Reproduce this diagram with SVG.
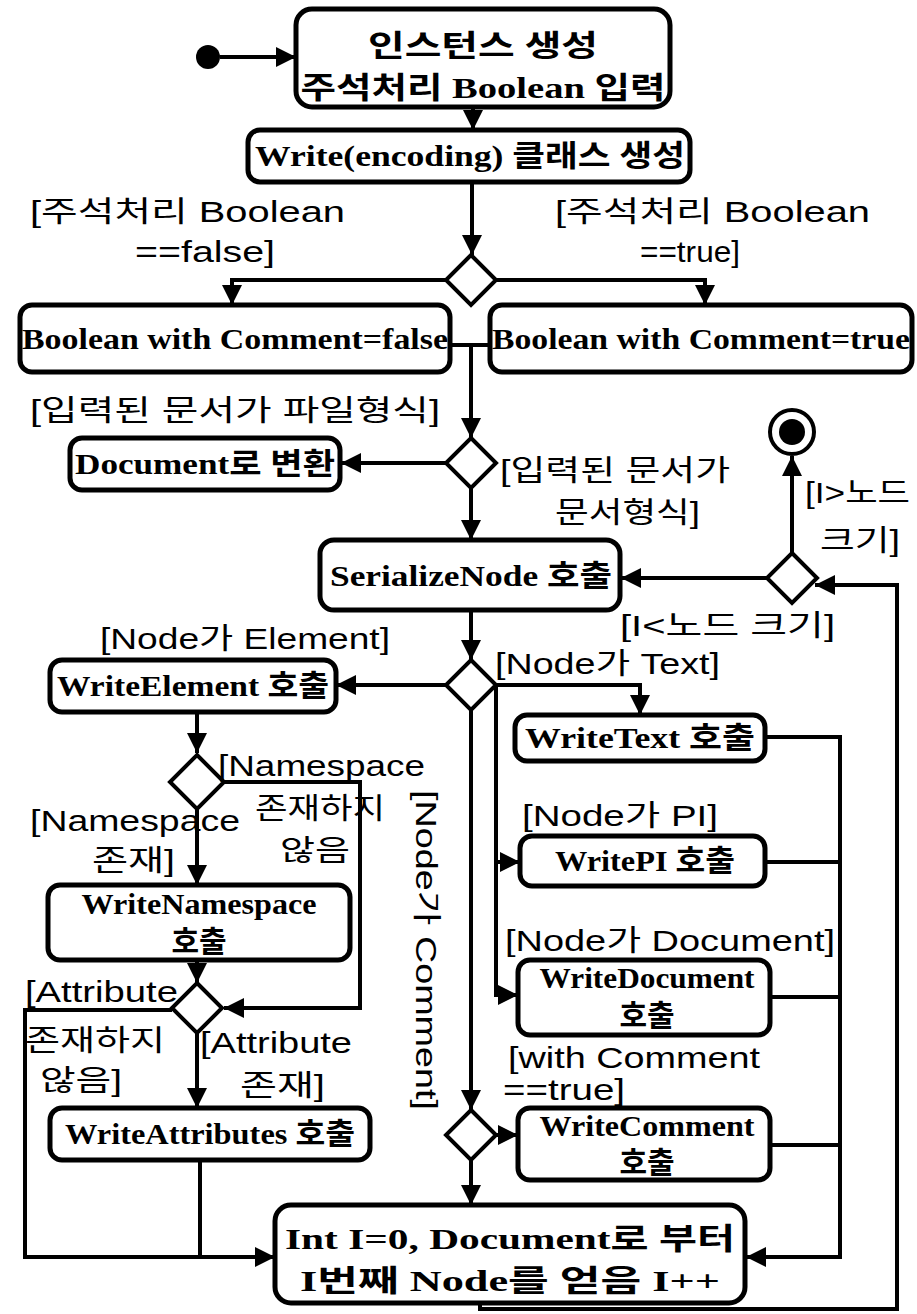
<svg xmlns="http://www.w3.org/2000/svg" width="917" height="1314" viewBox="0 0 917 1314">
<defs>
<marker id="ah" markerUnits="userSpaceOnUse" markerWidth="22" markerHeight="22" refX="20" refY="10" orient="auto">
<path d="M0,0 L20,10 L0,20 z" fill="#000"/>
</marker>
<style>
.box{fill:#fff;stroke:#000;stroke-width:5}
.bt{font-family:"Liberation Serif","Noto Sans CJK KR",serif;font-weight:bold;font-size:30px;fill:#000;text-anchor:middle}
.lb{font-family:"Liberation Sans","Noto Sans CJK KR",sans-serif;font-size:29px;fill:#000}
.dm{fill:#fff;stroke:#000;stroke-width:4}
.cn path,.cn line{fill:none;stroke:#000;stroke-width:4}
.ar{marker-end:url(#ah)}
</style>
</defs>
<rect width="917" height="1314" fill="#fff"/>

<g class="cn" id="connectors">
<line class="ar" x1="220" y1="57" x2="296" y2="57"/>
<line class="ar" x1="473" y1="108" x2="473" y2="130"/>
<line class="ar" x1="472" y1="182" x2="472" y2="255"/>
<path class="ar" d="M446,280 L232,280 L232,305"/>
<path class="ar" d="M496,280 L705,280 L705,305"/>
<line x1="450" y1="345" x2="490" y2="345"/>
<line class="ar" x1="471" y1="345" x2="471" y2="438"/>
<line class="ar" x1="446" y1="463" x2="341" y2="463"/>
<line class="ar" x1="471" y1="488" x2="471" y2="540"/>
<line class="ar" x1="792" y1="553" x2="792" y2="456"/>
<line class="ar" x1="767" y1="578" x2="621" y2="578"/>
<path class="ar" d="M480,1303 L480,1309 L897,1309 L897,585 L815,585"/>
<line class="ar" x1="471" y1="610" x2="471" y2="660"/>
<line class="ar" x1="446" y1="685" x2="336" y2="685"/>
<path class="ar" d="M496,685 L640,685 L640,715"/>
<path class="ar" d="M496,685 L496,995 L518,995"/>
<line class="ar" x1="496" y1="862" x2="520" y2="862"/>
<line class="ar" x1="471" y1="710" x2="471" y2="1110"/>
<line class="ar" x1="496" y1="1135" x2="518" y2="1135"/>
<line class="ar" x1="471" y1="1160" x2="471" y2="1205"/>
<line x1="765" y1="737" x2="840" y2="737"/>
<line x1="765" y1="862" x2="840" y2="862"/>
<line x1="770" y1="997" x2="840" y2="997"/>
<line x1="770" y1="1145" x2="840" y2="1145"/>
<path class="ar" d="M840,735 L840,1257 L746,1257"/>
<line class="ar" x1="197" y1="712" x2="197" y2="753"/>
<path class="ar" d="M224,782 L360,782 L360,1008 L224,1008"/>
<line class="ar" x1="197" y1="807" x2="197" y2="885"/>
<line class="ar" x1="197" y1="960" x2="197" y2="983"/>
<path class="ar" d="M172,1010 L25,1010 L25,1257 L275,1257"/>
<line class="ar" x1="197" y1="1033" x2="197" y2="1108"/>
<line x1="200" y1="1160" x2="200" y2="1257"/>
</g>

<g id="start"><circle cx="208" cy="57" r="12" fill="#000"/></g>
<g id="end"><circle cx="792" cy="432" r="22" fill="#fff" stroke="#000" stroke-width="4"/><circle cx="792" cy="432" r="13" fill="#000"/></g>

<g id="n1"><rect class="box" x="296" y="9" width="374" height="98" rx="16"/>
<text class="bt" x="483" y="56" textLength="230" lengthAdjust="spacingAndGlyphs">인스턴스 생성</text>
<text class="bt" x="483" y="98" textLength="365" lengthAdjust="spacingAndGlyphs">주석처리 Boolean 입력</text></g>
<g id="n2"><rect class="box" x="248" y="130" width="442" height="52" rx="12"/>
<text class="bt" x="470" y="166" textLength="430" lengthAdjust="spacingAndGlyphs">Write(encoding) 클래스 생성</text></g>

<g id="d1"><path class="dm" d="M471,255 L496,280 L471,305 L446,280 z"/></g>
<g id="l1"><text class="lb" x="30" y="222" textLength="315" lengthAdjust="spacingAndGlyphs">[주석처리 Boolean</text>
<text class="lb" x="135" y="262" textLength="140" lengthAdjust="spacingAndGlyphs">==false]</text>
<text class="lb" x="555" y="222" textLength="315" lengthAdjust="spacingAndGlyphs">[주석처리 Boolean</text>
<text class="lb" x="640" y="262" textLength="100" lengthAdjust="spacingAndGlyphs">==true]</text></g>

<g id="n3"><rect class="box" x="20" y="305" width="430" height="67" rx="12"/>
<text class="bt" x="235" y="349" textLength="426" lengthAdjust="spacingAndGlyphs">Boolean with Comment=false</text></g>
<g id="n4"><rect class="box" x="490" y="305" width="422" height="67" rx="12"/>
<text class="bt" x="701" y="349" textLength="418" lengthAdjust="spacingAndGlyphs">Boolean with Comment=true</text></g>

<g id="l2"><text class="lb" x="30" y="421" textLength="410" lengthAdjust="spacingAndGlyphs">[입력된 문서가 파일형식]</text>
<text class="lb" x="500" y="481" textLength="230" lengthAdjust="spacingAndGlyphs">[입력된 문서가</text>
<text class="lb" x="555" y="523" textLength="145" lengthAdjust="spacingAndGlyphs">문서형식]</text></g>
<g id="d2"><path class="dm" d="M471,438 L496,463 L471,488 L446,463 z"/></g>
<g id="n5"><rect class="box" x="70" y="438" width="270" height="52" rx="12"/>
<text class="bt" x="205" y="474" textLength="260" lengthAdjust="spacingAndGlyphs">Document로 변환</text></g>

<g id="n6"><rect class="box" x="320" y="540" width="300" height="70" rx="14"/>
<text class="bt" x="471" y="586" textLength="282" lengthAdjust="spacingAndGlyphs">SerializeNode 호출</text></g>
<g id="d3"><path class="dm" d="M792,553 L817,578 L792,603 L767,578 z"/></g>
<g id="l3"><text class="lb" x="805" y="503" textLength="105" lengthAdjust="spacingAndGlyphs">[I&gt;노드</text>
<text class="lb" x="820" y="551" textLength="80" lengthAdjust="spacingAndGlyphs">크기]</text>
<text class="lb" x="620" y="636" textLength="215" lengthAdjust="spacingAndGlyphs">[I&lt;노드 크기]</text></g>

<g id="d4"><path class="dm" d="M471,660 L496,685 L471,710 L446,685 z"/></g>
<g id="l4"><text class="lb" x="100" y="649" textLength="290" lengthAdjust="spacingAndGlyphs">[Node가 Element]</text>
<text class="lb" x="495" y="674" textLength="225" lengthAdjust="spacingAndGlyphs">[Node가 Text]</text>
<text class="lb" x="522" y="826" textLength="196" lengthAdjust="spacingAndGlyphs">[Node가 PI]</text>
<text class="lb" x="505" y="951" textLength="330" lengthAdjust="spacingAndGlyphs">[Node가 Document]</text>
<text class="lb" x="508" y="1068" textLength="252" lengthAdjust="spacingAndGlyphs">[with Comment</text>
<text class="lb" x="503" y="1100" textLength="122" lengthAdjust="spacingAndGlyphs">==true]</text>
<text class="lb" transform="translate(416,950) rotate(90)" text-anchor="middle" textLength="320" lengthAdjust="spacingAndGlyphs">[Node가 Comment]</text></g>

<g id="n7"><rect class="box" x="50" y="660" width="286" height="52" rx="12"/>
<text class="bt" x="193" y="696" textLength="272" lengthAdjust="spacingAndGlyphs">WriteElement 호출</text></g>
<g id="n8"><rect class="box" x="515" y="715" width="250" height="46" rx="12"/>
<text class="bt" x="640" y="748" textLength="230" lengthAdjust="spacingAndGlyphs">WriteText 호출</text></g>
<g id="n9"><rect class="box" x="520" y="836" width="245" height="50" rx="12"/>
<text class="bt" x="645" y="871" textLength="180" lengthAdjust="spacingAndGlyphs">WritePI 호출</text></g>
<g id="n10"><rect class="box" x="518" y="960" width="252" height="75" rx="12"/>
<text class="bt" x="647" y="988" textLength="215" lengthAdjust="spacingAndGlyphs">WriteDocument</text>
<text class="bt" x="647" y="1026">호출</text></g>
<g id="d5"><path class="dm" d="M471,1110 L496,1135 L471,1160 L446,1135 z"/></g>
<g id="n11"><rect class="box" x="518" y="1108" width="252" height="72" rx="12"/>
<text class="bt" x="647" y="1136" textLength="215" lengthAdjust="spacingAndGlyphs">WriteComment</text>
<text class="bt" x="647" y="1173">호출</text></g>

<g id="n12"><rect class="box" x="275" y="1205" width="470" height="98" rx="16"/>
<text class="bt" x="510" y="1249" textLength="450" lengthAdjust="spacingAndGlyphs">Int I=0, Document로 부터</text>
<text class="bt" x="510" y="1291" textLength="420" lengthAdjust="spacingAndGlyphs">I번째 Node를 얻음 I++</text></g>

<g id="d6"><path class="dm" d="M197,755 L224,782 L197,809 L170,782 z"/></g>
<g id="l6"><text class="lb" x="218" y="776" textLength="207" lengthAdjust="spacingAndGlyphs">[Namespace</text>
<text class="lb" x="255" y="819" textLength="130" lengthAdjust="spacingAndGlyphs">존재하지</text>
<text class="lb" x="280" y="861" textLength="70" lengthAdjust="spacingAndGlyphs">않음</text>
<text class="lb" x="30" y="831" textLength="210" lengthAdjust="spacingAndGlyphs">[Namespace</text>
<text class="lb" x="92" y="871" textLength="83" lengthAdjust="spacingAndGlyphs">존재]</text></g>
<g id="n13"><rect class="box" x="48" y="885" width="302" height="75" rx="12"/>
<text class="bt" x="199" y="914" textLength="235" lengthAdjust="spacingAndGlyphs">WriteNamespace</text>
<text class="bt" x="199" y="952">호출</text></g>
<g id="d7"><path class="dm" d="M197,983 L222,1008 L197,1033 L172,1008 z"/></g>
<g id="l7"><text class="lb" x="25" y="1002" textLength="153" lengthAdjust="spacingAndGlyphs">[Attribute</text>
<text class="lb" x="25" y="1051" textLength="140" lengthAdjust="spacingAndGlyphs">존재하지</text>
<text class="lb" x="40" y="1091" textLength="82" lengthAdjust="spacingAndGlyphs">않음]</text>
<text class="lb" x="200" y="1053" textLength="152" lengthAdjust="spacingAndGlyphs">[Attribute</text>
<text class="lb" x="240" y="1096" textLength="85" lengthAdjust="spacingAndGlyphs">존재]</text></g>
<g id="n14"><rect class="box" x="50" y="1108" width="320" height="52" rx="12"/>
<text class="bt" x="210" y="1144" textLength="290" lengthAdjust="spacingAndGlyphs">WriteAttributes 호출</text></g>
</svg>
